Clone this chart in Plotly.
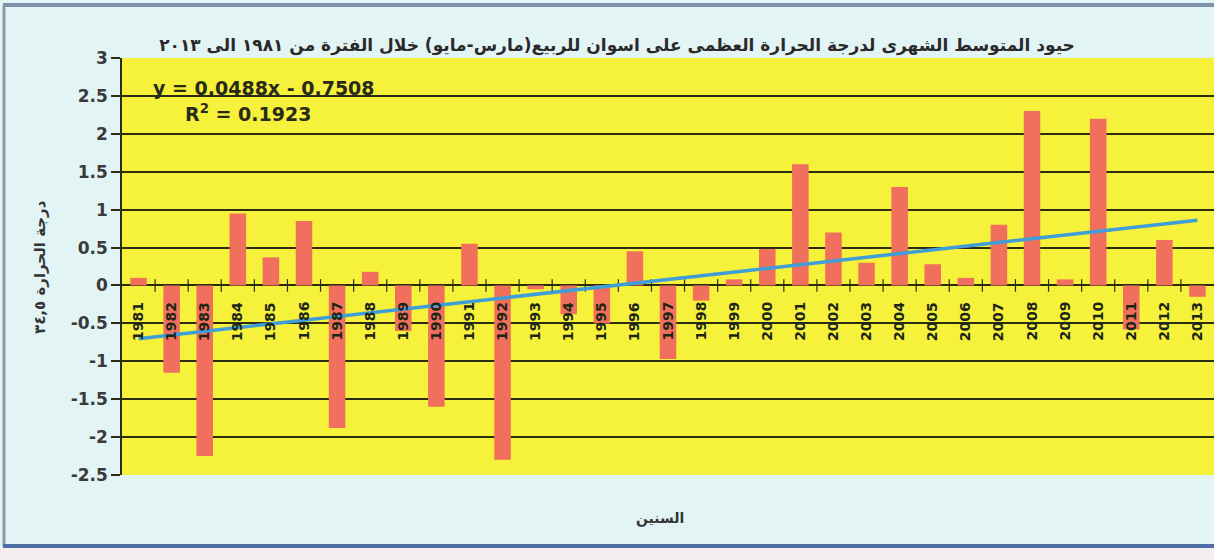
import plotly.graph_objects as go

# Spring (Mar-May) maximum temperature anomalies at Aswan, 1981-2013
years = list(range(1981, 2014))
anomalies = [
    0.10, -1.15, -2.25, 0.95, 0.37, 0.85, -1.88, 0.18, -0.60, -1.60,
    0.55, -2.30, -0.05, -0.38, -0.50, 0.45, -0.97, -0.20, 0.08, 0.48,
    1.60, 0.70, 0.30, 1.30, 0.28, 0.10, 0.80, 2.30, 0.08, 2.20,
    -0.58, 0.60, -0.15,
]

# Linear trend as reported on the chart (x = 1 for the first year)
trend_slope = 0.0488
trend_intercept = -0.7508
r_squared = 0.1923

y_tick_vals = [3, 2.5, 2, 1.5, 1, 0.5, 0, -0.5, -1, -1.5, -2, -2.5]
y_tick_text = ["3", "2.5", "2", "1.5", "1", "0.5", "0", "-0.5", "-1", "-1.5", "-2", "-2.5"]

title_text = "حيود المتوسط الشهرى لدرجة الحرارة العظمى على اسوان للربيع(مارس-مايو) خلال الفترة من ١٩٨١ الى ٢٠١٣"
y_title_text = "درجة الحرارة ٣٤,٥"
x_title_text = "السنين"

W, H = 1214, 560
M_L, M_R, M_T, M_B = 122, 0, 58, 85
PLOT_W = W - M_L - M_R
PLOT_H = H - M_T - M_B

FONT = "DejaVu Sans"
DARK = "#262a14"
GRID = "#2b2c10"


def px_x(px):
    return (px - M_L) / PLOT_W


def px_y(py):
    return (H - M_B - py) / PLOT_H


trend_x = [years[0], years[-1]]
trend_y = [trend_slope * (y - years[0] + 1) + trend_intercept for y in trend_x]

fig = go.Figure()

fig.add_trace(go.Bar(
    x=years, y=anomalies, width=0.5,
    marker=dict(color="#f1705d", line=dict(width=0)),
    hoverinfo="x+y", showlegend=False,
))

# Category separator ticks along the zero line
fig.add_trace(go.Scatter(
    x=[y + 0.5 for y in years[:-1]], y=[0] * (len(years) - 1),
    mode="markers",
    marker=dict(symbol="line-ns", size=9, line=dict(width=1.2, color=GRID)),
    hoverinfo="skip", showlegend=False,
))

fig.add_trace(go.Scatter(
    x=trend_x, y=trend_y, mode="lines",
    line=dict(color="#3f9ed8", width=3.5),
    hoverinfo="skip", showlegend=False,
))

annotations = []
for yr in years:
    annotations.append(dict(
        x=yr, y=0, xref="x", yref="y", text=str(yr), textangle=-90,
        showarrow=False, xanchor="center", yanchor="middle", yshift=-36,
        font=dict(family=FONT, size=14, color="#1c2616", weight="bold"),
    ))

annotations += [
    dict(x=px_x(264), y=px_y(88), xref="paper", yref="paper",
         text=f"y = {trend_slope}x - {abs(trend_intercept)}", showarrow=False,
         xanchor="center", yanchor="middle",
         font=dict(family=FONT, size=19, color="#2a2a18", weight="bold")),
    dict(x=px_x(248), y=px_y(113), xref="paper", yref="paper",
         text=f"R<sup>2</sup> = {r_squared}", showarrow=False,
         xanchor="center", yanchor="middle",
         font=dict(family=FONT, size=19, color="#2a2a18", weight="bold")),
    dict(x=px_x(40), y=px_y(267), xref="paper", yref="paper",
         text=y_title_text, textangle=-90, showarrow=False,
         xanchor="center", yanchor="middle",
         font=dict(family=FONT, size=15, color="#333333", weight="bold")),
    dict(x=px_x(660), y=px_y(518), xref="paper", yref="paper",
         text=x_title_text, showarrow=False,
         xanchor="center", yanchor="middle",
         font=dict(family=FONT, size=14, color="#333333", weight="bold")),
]

shapes = [
    # pale strip below the frame
    dict(type="rect", xref="paper", yref="paper", layer="below",
         x0=px_x(0), x1=px_x(W), y0=px_y(H), y1=px_y(548),
         fillcolor="#f5eef1", line=dict(width=0)),
    # top frame edge
    dict(type="line", xref="paper", yref="paper",
         x0=px_x(3), x1=px_x(W), y0=px_y(5), y1=px_y(5),
         line=dict(color="#7d93ad", width=4)),
    # left frame edge
    dict(type="line", xref="paper", yref="paper",
         x0=px_x(4), x1=px_x(4), y0=px_y(5), y1=px_y(546),
         line=dict(color="#8d99a5", width=3)),
    # bottom frame edge
    dict(type="line", xref="paper", yref="paper",
         x0=px_x(3), x1=px_x(W), y0=px_y(546), y1=px_y(546),
         line=dict(color="#4d6fa6", width=4)),
]

fig.update_layout(
    width=W, height=H,
    margin=dict(l=M_L, r=M_R, t=M_T, b=M_B, pad=0),
    paper_bgcolor="#e3f4f5",
    plot_bgcolor="#f6f13a",
    title=dict(text=title_text, x=617 / W, y=1 - 45 / H,
               xanchor="center", yanchor="middle",
               font=dict(family=FONT, size=17, color="#2a2a2a", weight="bold")),
    xaxis=dict(range=[years[0] - 0.5, years[-1] + 0.5], showticklabels=False,
               showgrid=False, zeroline=False, showline=False, ticks=""),
    yaxis=dict(range=[-2.5, 3], tickvals=y_tick_vals, ticktext=y_tick_text,
               showgrid=True, gridcolor=GRID, gridwidth=1.5,
               zeroline=True, zerolinecolor=GRID, zerolinewidth=1.8,
               showline=True, linecolor=GRID, linewidth=1.5,
               ticks="outside", ticklen=9, tickcolor=GRID, tickwidth=1.5,
               tickfont=dict(family=FONT, size=17, color="#3a3a3a", weight="bold")),
    annotations=annotations,
    shapes=shapes,
    bargap=0.5,
)

fig.write_html("out.html")
